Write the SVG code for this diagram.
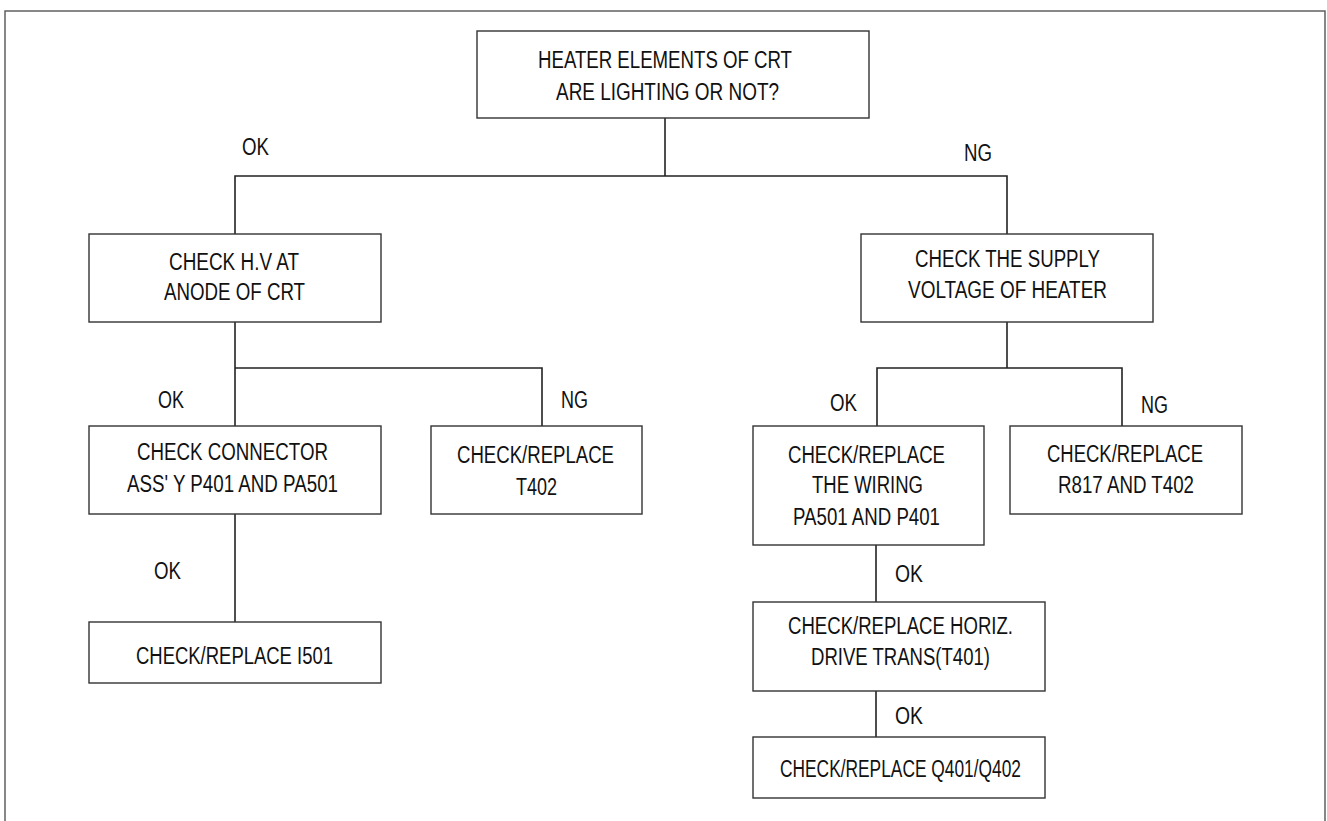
<svg xmlns="http://www.w3.org/2000/svg" width="1327" height="821" viewBox="0 0 1327 821">
<style>
.box{fill:#fff;stroke:#333;stroke-width:1.4}
.ln{fill:none;stroke:#222;stroke-width:1.6}
text{font-family:"Liberation Sans",Arial,sans-serif;font-size:23px;fill:#111}
</style>
<rect x="0" y="0" width="1327" height="821" fill="#fff"/>
<rect x="5" y="11" width="1320" height="815" fill="none" stroke="#555" stroke-width="1.4"/>
<g id="connectors">
<polyline class="ln" points="665,118 665,176"/>
<polyline class="ln" points="235,234 235,176 1007,176 1007,234"/>
<polyline class="ln" points="235,322 235,426"/>
<polyline class="ln" points="235,368 542,368 542,426"/>
<polyline class="ln" points="1007,322 1007,368"/>
<polyline class="ln" points="877,426 877,368 1122,368 1122,426"/>
<polyline class="ln" points="235,514 235,622"/>
<polyline class="ln" points="876,545 876,602"/>
<polyline class="ln" points="876,691 876,737"/>
</g>
<g id="labels">
<text x="242" y="155" textLength="27" lengthAdjust="spacingAndGlyphs">OK</text>
<text x="964" y="161" textLength="28" lengthAdjust="spacingAndGlyphs">NG</text>
<text x="158" y="408" textLength="26" lengthAdjust="spacingAndGlyphs">OK</text>
<text x="561" y="408" textLength="27" lengthAdjust="spacingAndGlyphs">NG</text>
<text x="830" y="411" textLength="27" lengthAdjust="spacingAndGlyphs">OK</text>
<text x="1141" y="413" textLength="27" lengthAdjust="spacingAndGlyphs">NG</text>
<text x="154" y="579" textLength="27" lengthAdjust="spacingAndGlyphs">OK</text>
<text x="895" y="582" textLength="28" lengthAdjust="spacingAndGlyphs">OK</text>
<text x="895" y="724" textLength="28" lengthAdjust="spacingAndGlyphs">OK</text>
</g>
<g id="n-heater">
<rect class="box" x="477" y="31" width="392" height="87"/>
<text x="538" y="68" textLength="254" lengthAdjust="spacingAndGlyphs">HEATER ELEMENTS OF CRT</text>
<text x="556" y="100" textLength="223" lengthAdjust="spacingAndGlyphs">ARE LIGHTING OR NOT?</text>
</g>
<g id="n-hv">
<rect class="box" x="89" y="234" width="292" height="88"/>
<text x="169" y="270" textLength="130" lengthAdjust="spacingAndGlyphs">CHECK H.V AT</text>
<text x="164" y="300" textLength="141" lengthAdjust="spacingAndGlyphs">ANODE OF CRT</text>
</g>
<g id="n-supply">
<rect class="box" x="861" y="234" width="292" height="88"/>
<text x="915" y="267" textLength="185" lengthAdjust="spacingAndGlyphs">CHECK THE SUPPLY</text>
<text x="908" y="298" textLength="199" lengthAdjust="spacingAndGlyphs">VOLTAGE OF HEATER</text>
</g>
<g id="n-connector">
<rect class="box" x="89" y="426" width="292" height="88"/>
<text x="137" y="460" textLength="191" lengthAdjust="spacingAndGlyphs">CHECK CONNECTOR</text>
<text x="127" y="492" textLength="211" lengthAdjust="spacingAndGlyphs">ASS' Y P401 AND PA501</text>
</g>
<g id="n-t402">
<rect class="box" x="431" y="426" width="211" height="88"/>
<text x="457" y="463" textLength="157" lengthAdjust="spacingAndGlyphs">CHECK/REPLACE</text>
<text x="516" y="495" textLength="41" lengthAdjust="spacingAndGlyphs">T402</text>
</g>
<g id="n-wiring">
<rect class="box" x="753" y="426" width="231" height="119"/>
<text x="788" y="463" textLength="157" lengthAdjust="spacingAndGlyphs">CHECK/REPLACE</text>
<text x="812" y="493" textLength="111" lengthAdjust="spacingAndGlyphs">THE WIRING</text>
<text x="793" y="525" textLength="147" lengthAdjust="spacingAndGlyphs">PA501 AND P401</text>
</g>
<g id="n-r817">
<rect class="box" x="1010" y="426" width="232" height="88"/>
<text x="1047" y="462" textLength="156" lengthAdjust="spacingAndGlyphs">CHECK/REPLACE</text>
<text x="1058" y="493" textLength="136" lengthAdjust="spacingAndGlyphs">R817 AND T402</text>
</g>
<g id="n-i501">
<rect class="box" x="89" y="622" width="292" height="61"/>
<text x="136" y="664" textLength="197" lengthAdjust="spacingAndGlyphs">CHECK/REPLACE I501</text>
</g>
<g id="n-horiz">
<rect class="box" x="753" y="602" width="292" height="89"/>
<text x="788" y="634" textLength="225" lengthAdjust="spacingAndGlyphs">CHECK/REPLACE HORIZ.</text>
<text x="811" y="665" textLength="179" lengthAdjust="spacingAndGlyphs">DRIVE TRANS(T401)</text>
</g>
<g id="n-q401">
<rect class="box" x="753" y="737" width="292" height="61"/>
<text x="780" y="777" textLength="241" lengthAdjust="spacingAndGlyphs">CHECK/REPLACE Q401/Q402</text>
</g>
</svg>
